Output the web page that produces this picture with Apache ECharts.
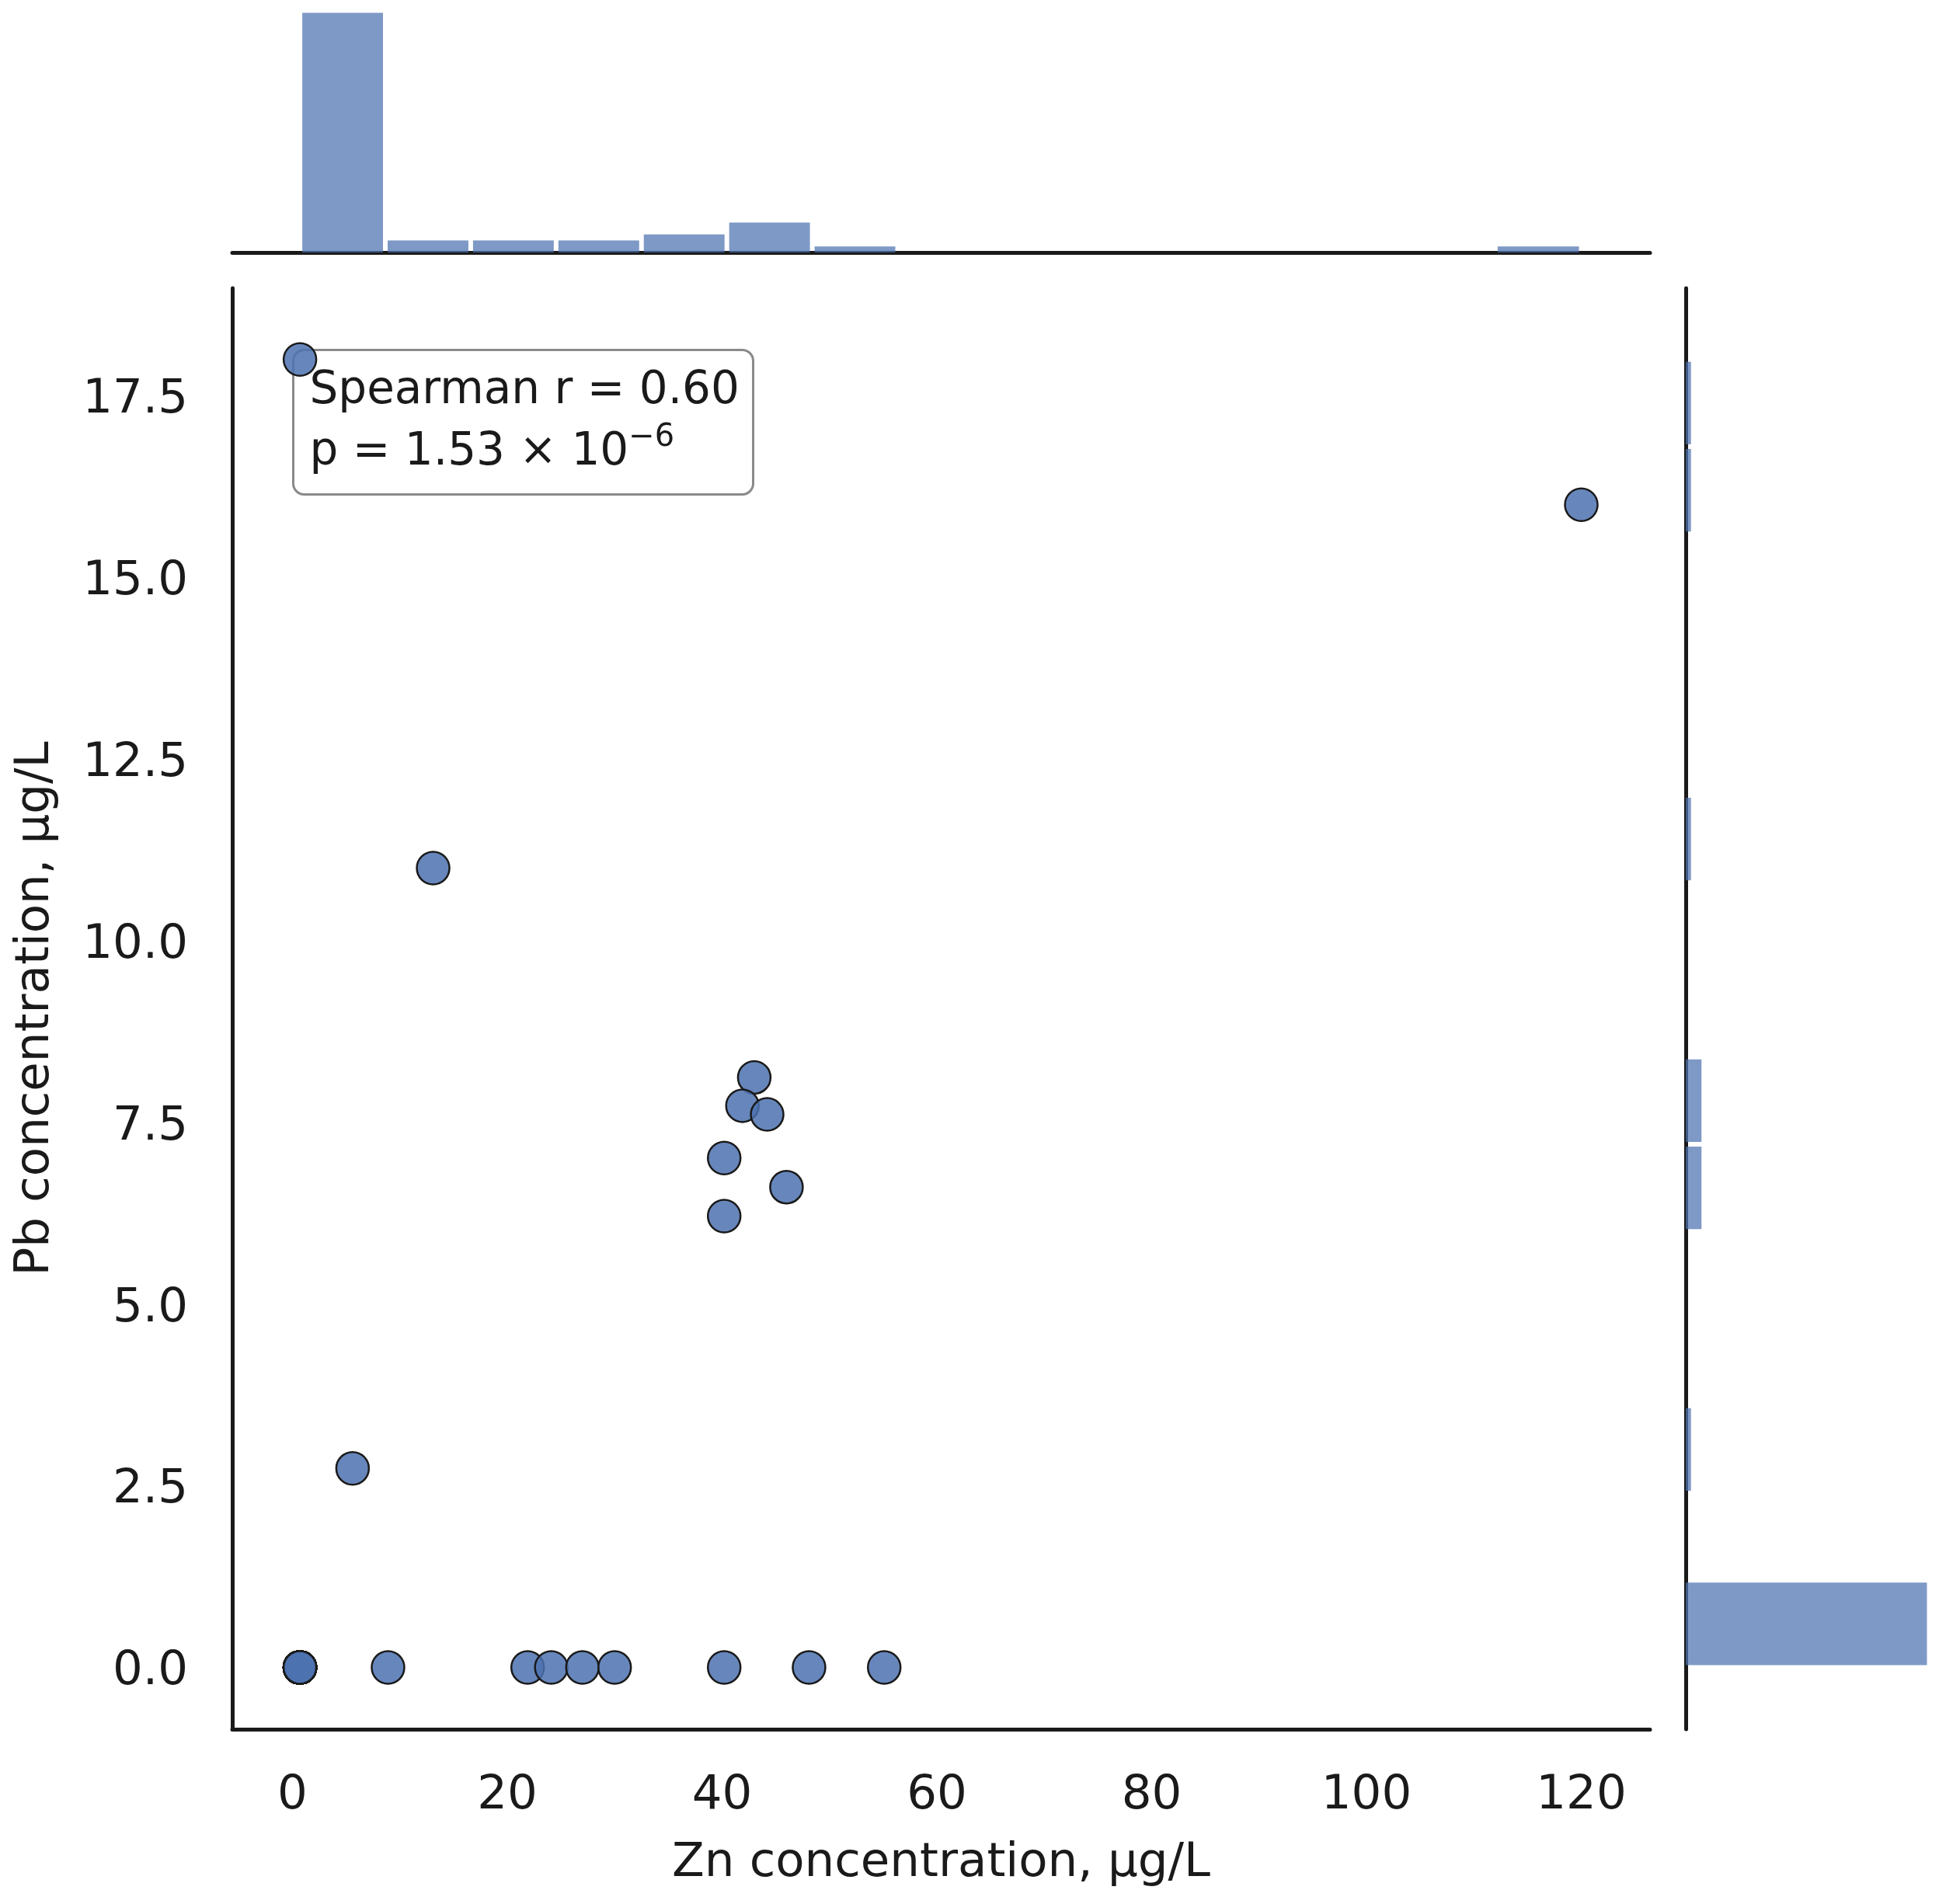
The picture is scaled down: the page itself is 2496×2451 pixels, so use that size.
<!DOCTYPE html>
<html>
<head>
<meta charset="utf-8">
<script src="https://cdn.jsdelivr.net/npm/echarts@6/dist/echarts.min.js"></script>
<style>
  html, body { margin: 0; padding: 0; background: #fff; }
  #chart { width: 2496px; height: 2451px; }
</style>
</head>
<body>
<div id="chart"></div>
<script>
// scatter points, Zn vs Pb (µg/L); the dark dot at the origin is many stacked samples
var zincUgL = [
  0.7, 120.0, 13.1, 43.0, 41.9, 44.2, 40.2, 46.0, 40.2, 5.6,
  8.9, 21.9, 24.1, 27.0, 30.0, 40.2, 48.1, 55.1,
  0.7, 0.7, 0.7, 0.7, 0.7, 0.7, 0.7, 0.7, 0.7, 0.7,
  0.7, 0.7, 0.7, 0.7, 0.7, 0.7, 0.7, 0.7, 0.7, 0.7,
  0.7, 0.7, 0.7, 0.7, 0.7, 0.7, 0.7, 0.7, 0.7, 0.7,
  0.7, 0.7, 0.7, 0.7, 0.7, 0.7, 0.7, 0.7
]
var leadUgL = [
  18.0, 16.0, 11.0, 8.12, 7.73, 7.61, 7.01, 6.61, 6.21, 2.74,
  0, 0, 0, 0, 0, 0, 0, 0,
  0, 0, 0, 0, 0, 0, 0, 0, 0, 0,
  0, 0, 0, 0, 0, 0, 0, 0, 0, 0,
  0, 0, 0, 0, 0, 0, 0, 0, 0, 0,
  0, 0, 0, 0, 0, 0, 0, 0
]

// marginal histograms
var znBinEdges = [0.7, 8.65, 16.6, 24.55, 32.5, 40.45, 48.4, 56.35, 64.3, 72.25, 80.2, 88.15, 96.1, 104.05, 112.0, 120.0]
var znBinCounts = [40, 2, 2, 2, 3, 5, 1, 0, 0, 0, 0, 0, 0, 0, 1]
var pbBinEdges = [0, 1.2, 2.4, 3.6, 4.8, 6.0, 7.2, 8.4, 9.6, 10.8, 12.0, 13.2, 14.4, 15.6, 16.8, 18.0]
var pbBinCounts = [46, 0, 1, 0, 0, 3, 3, 0, 0, 1, 0, 0, 0, 1, 1]

var xTickValues = [0, 20, 40, 60, 80, 100, 120]
var yTickValues = [0, 2.5, 5, 7.5, 10, 12.5, 15, 17.5]

var statText = ['Spearman r = 0.60', 'p = 1.53 × 10', '−6']

var FONT = 'DejaVu Sans'
var INK = '#1a1a1a'
var BLUE = '76,114,176'

var points = zincUgL.map(function (x, i) { return [x, leadUgL[i]] })
var znBins = znBinCounts.map(function (c, i) { return [znBinEdges[i], znBinEdges[i + 1], c] })
var pbBins = pbBinCounts.map(function (c, i) { return [pbBinEdges[i], pbBinEdges[i + 1], c] })

function histItem (horizontal) {
  var gap = 3
  return function (params, api) {
    var lo = api.value(0), hi = api.value(1), n = api.value(2)
    if (!n) return
    var p0, p1, shape
    if (!horizontal) {
      p0 = api.coord([lo, 0])
      p1 = api.coord([hi, n])
      shape = { x: p0[0] + gap, y: p1[1], width: p1[0] - p0[0] - 2 * gap, height: p0[1] - p1[1] }
    } else {
      p0 = api.coord([0, lo])
      p1 = api.coord([n, hi])
      shape = { x: p0[0], y: p1[1] + gap, width: p1[0] - p0[0], height: p0[1] - p1[1] - 2 * gap }
    }
    return { type: 'rect', shape: shape, style: { fill: 'rgba(' + BLUE + ',0.72)' } }
  }
}

var spine = { show: true, onZero: false, lineStyle: { color: INK, width: 5 } }
var hidden = { show: false }

var option = {
  backgroundColor: '#fff',
  animation: false,
  textStyle: { fontFamily: FONT },
  grid: [
    { left: 299, top: 371, width: 1825, height: 1855 },
    { left: 299, top: 1, width: 1825, height: 324 },
    { left: 2170, top: 371, width: 326, height: 1855 }
  ],
  xAxis: [
    {
      type: 'value', gridIndex: 0, min: -5.6, max: 126.4,
      axisLine: spine, axisTick: hidden, splitLine: hidden,
      axisLabel: { customValues: xTickValues, margin: 56, fontSize: 61, color: INK, fontFamily: FONT },
      name: 'Zn concentration, µg/L', nameLocation: 'middle', nameGap: 143,
      nameTextStyle: { fontSize: 61, color: INK, fontFamily: FONT }
    },
    {
      type: 'value', gridIndex: 1, min: -5.6, max: 126.4,
      axisLine: spine, axisTick: hidden, splitLine: hidden, axisLabel: hidden
    },
    {
      type: 'value', gridIndex: 2, min: 0, max: 48.3,
      axisLine: hidden, axisTick: hidden, splitLine: hidden, axisLabel: hidden
    }
  ],
  yAxis: [
    {
      type: 'value', gridIndex: 0, min: -0.85, max: 18.98,
      axisLine: spine, axisTick: hidden, splitLine: hidden,
      axisLabel: {
        customValues: yTickValues, margin: 57, color: INK, fontFamily: FONT,
        formatter: function (v) { return '{v|' + v.toFixed(1) + '}' },
        rich: { v: { fontSize: 61, fontFamily: FONT, color: INK, padding: [12, 0, 0, 0] } }
      },
      name: 'Pb concentration, µg/L', nameLocation: 'middle', nameGap: 222,
      nameTextStyle: { fontSize: 61, color: INK, fontFamily: FONT }
    },
    {
      type: 'value', gridIndex: 1, min: 0, max: 42,
      axisLine: hidden, axisTick: hidden, splitLine: hidden, axisLabel: hidden
    },
    {
      type: 'value', gridIndex: 2, min: -0.85, max: 18.98,
      axisLine: spine, axisTick: hidden, splitLine: hidden, axisLabel: hidden
    }
  ],
  series: [
    {
      type: 'custom', xAxisIndex: 1, yAxisIndex: 1,
      renderItem: histItem(false), data: znBins, z: 1
    },
    {
      type: 'custom', xAxisIndex: 2, yAxisIndex: 2,
      renderItem: histItem(true), data: pbBins, z: 1
    },
    {
      type: 'scatter', xAxisIndex: 0, yAxisIndex: 0,
      symbolSize: 42,
      itemStyle: { color: 'rgba(' + BLUE + ',0.85)', borderColor: '#1a1a1a', borderWidth: 2.5, opacity: 1 },
      data: points, z: 2
    }
  ],
  graphic: [
    {
      type: 'group', left: 376, top: 449, z: 100,
      children: [
        {
          type: 'rect',
          shape: { x: 0, y: 0, width: 592, height: 186, r: 14 },
          style: { fill: 'rgba(255,255,255,0.8)', stroke: '#8a8a8a', lineWidth: 3 }
        },
        {
          type: 'text', x: 21, y: 14,
          style: {
            text: '{a|' + statText[0] + '}\n{a|' + statText[1] + '}{s|' + statText[2] + '}',
            rich: {
              a: { fontSize: 58, lineHeight: 79, fontFamily: FONT, fill: INK },
              s: { fontSize: 40, lineHeight: 40, verticalAlign: 'top', fontFamily: FONT, fill: INK }
            }
          }
        }
      ]
    }
  ]
}

var myChart = echarts.init(document.getElementById('chart'), null, { renderer: 'canvas' })
myChart.setOption(option)
</script>
</body>
</html>
